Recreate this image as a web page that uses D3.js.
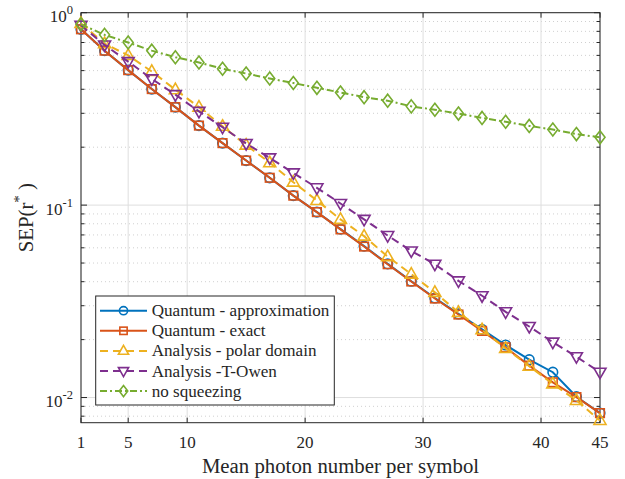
<!DOCTYPE html>
<html>
<head>
<meta charset="utf-8">
<script src="https://cdn.jsdelivr.net/npm/d3@7"></script>
<style>
  body { margin: 0; background: #fff; }
  text { font-family: "Liberation Serif", "Times New Roman", serif; fill: #262626; }
</style>
</head>
<body>
<script>
// photon numbers (x) for every series
var photons = [1, 3, 5, 7, 9, 11, 13, 15, 17, 19, 21, 23, 25, 27, 29, 31, 33, 35, 37, 39, 41, 43, 45];

var quantumApprox = [0.82, 0.635, 0.503, 0.401, 0.323, 0.259, 0.210, 0.1705, 0.1387, 0.112, 0.092, 0.0750,
                     0.0612, 0.0495, 0.0402, 0.0329, 0.0272, 0.0226, 0.01875, 0.01573, 0.01354, 0.0101, 0.0083];
var quantumExact  = [0.82, 0.635, 0.503, 0.401, 0.323, 0.259, 0.210, 0.1705, 0.1387, 0.112, 0.092, 0.0748,
                     0.0609, 0.0493, 0.0401, 0.0327, 0.0270, 0.0222, 0.01823, 0.01465, 0.0120, 0.01005, 0.0083];
var polarDomain   = [0.88, 0.69, 0.60, 0.495, 0.398, 0.323, 0.257, 0.205, 0.166, 0.1316, 0.1057, 0.0843,
                     0.069, 0.054, 0.0438, 0.0352, 0.0277, 0.0225, 0.0180, 0.01455, 0.01178, 0.00966, 0.0076];
var tOwen         = [0.86, 0.68, 0.557, 0.453, 0.375, 0.307, 0.254, 0.209, 0.176, 0.147, 0.123, 0.102,
                     0.0843, 0.0695, 0.0578, 0.0493, 0.0404, 0.0338, 0.0279, 0.0234, 0.0194, 0.0163, 0.01354];
var noSqueezing   = [0.87, 0.767, 0.70, 0.635, 0.587, 0.551, 0.511, 0.483, 0.455, 0.431, 0.407, 0.385,
                     0.364, 0.349, 0.326, 0.313, 0.299, 0.284, 0.271, 0.258, 0.247, 0.234, 0.225];

var xTicks = [1, 5, 10, 20, 30, 40, 45];
var yDecades = [1, 0.1, 0.01];
var legendNames = ["Quantum - approximation", "Quantum - exact", "Analysis - polar domain", "Analysis -T-Owen", "no squeezing"];

var W = 625, H = 479;
var L = 81, R = 600, T = 12.7, B = 422.7;

var svg = d3.select("body").append("svg")
    .attr("width", W)
    .attr("height", H);

var x = d3.scaleLinear().domain([1, 45]).range([L, R]);
var y = d3.scaleLog().domain([0.0074, 1]).range([B, T]);

// minor y values
var yMinor = [];
[0.001, 0.01, 0.1].forEach(function (d) {
    for (var k = 2; k <= 9; k++) {
        var v = d * k;
        if (v >= 0.0074 && v < 1) yMinor.push(v);
    }
});

var grid = svg.append("g");
grid.selectAll("line.minor").data(yMinor).enter().append("line")
    .attr("x1", L).attr("x2", R)
    .attr("y1", function (d) { return y(d); })
    .attr("y2", function (d) { return y(d); })
    .attr("stroke", "#c4c4c4")
    .attr("stroke-width", 0.8)
    .attr("stroke-dasharray", "1,3");
grid.selectAll("line.ymaj").data(yDecades).enter().append("line")
    .attr("x1", L).attr("x2", R)
    .attr("y1", function (d) { return y(d); })
    .attr("y2", function (d) { return y(d); })
    .attr("stroke", "#dedede")
    .attr("stroke-width", 1);
grid.selectAll("line.xmaj").data(xTicks).enter().append("line")
    .attr("y1", T).attr("y2", B)
    .attr("x1", function (d) { return x(d); })
    .attr("x2", function (d) { return x(d); })
    .attr("stroke", "#dedede")
    .attr("stroke-width", 1);

// axes (ticks inward, box on)
var axisColor = "#262626";
var axes = svg.append("g");
axes.append("rect")
    .attr("x", L).attr("y", T)
    .attr("width", R - L).attr("height", B - T)
    .attr("fill", "none")
    .attr("stroke", axisColor)
    .attr("stroke-width", 1);

xTicks.forEach(function (d) {
    axes.append("line").attr("x1", x(d)).attr("x2", x(d)).attr("y1", B).attr("y2", B - 5).attr("stroke", axisColor);
    axes.append("line").attr("x1", x(d)).attr("x2", x(d)).attr("y1", T).attr("y2", T + 5).attr("stroke", axisColor);
    axes.append("text")
        .attr("x", x(d)).attr("y", 447.5)
        .attr("text-anchor", "middle")
        .style("font-size", "17px")
        .text(d);
});

yDecades.forEach(function (d) {
    axes.append("line").attr("x1", L).attr("x2", L + 6).attr("y1", y(d)).attr("y2", y(d)).attr("stroke", axisColor);
    axes.append("line").attr("x1", R).attr("x2", R - 6).attr("y1", y(d)).attr("y2", y(d)).attr("stroke", axisColor);
    var e = Math.round(Math.log10(d));
    var t = axes.append("text")
        .attr("x", 73).attr("y", y(d) + 9.5)
        .attr("text-anchor", "end")
        .style("font-size", "17px");
    t.append("tspan").text("10");
    t.append("tspan").attr("dy", -8).style("font-size", "12.5px").text(e === 0 ? "0" : "-" + Math.abs(e));
});
yMinor.forEach(function (d) {
    axes.append("line").attr("x1", L).attr("x2", L + 3.5).attr("y1", y(d)).attr("y2", y(d)).attr("stroke", axisColor);
    axes.append("line").attr("x1", R).attr("x2", R - 3.5).attr("y1", y(d)).attr("y2", y(d)).attr("stroke", axisColor);
});

// axis titles
axes.append("text")
    .attr("x", (L + R) / 2).attr("y", 473)
    .attr("text-anchor", "middle")
    .style("font-size", "20.8px")
    .text("Mean photon number per symbol");

var yl = axes.append("text")
    .attr("transform", "translate(33," + ((T + B) / 2) + ") rotate(-90)")
    .attr("text-anchor", "middle")
    .style("font-size", "20.8px");
yl.append("tspan").text("SEP(r");
yl.append("tspan").attr("dy", -9).style("font-size", "15px").text("*");
yl.append("tspan").attr("dy", 9).text(" )");

// series
var series = [
    { name: legendNames[0], values: quantumApprox, color: "#0072BD", dash: null, marker: "circle" },
    { name: legendNames[1], values: quantumExact, color: "#D95319", dash: null, marker: "square" },
    { name: legendNames[2], values: polarDomain, color: "#EDB120", dash: "8,5", marker: "up" },
    { name: legendNames[3], values: tOwen, color: "#7E2F8E", dash: "8,5", marker: "down" },
    { name: legendNames[4], values: noSqueezing, color: "#77AC30", dash: "7,3,2,3", marker: "diamond" }
];

function drawMarker(g, type, cx, cy, color, s) {
    var m;
    if (type === "circle") {
        m = g.append("circle").attr("cx", cx).attr("cy", cy).attr("r", 4.8 * s);
    } else if (type === "square") {
        m = g.append("rect").attr("x", cx - 4.3 * s).attr("y", cy - 4.3 * s).attr("width", 8.6 * s).attr("height", 8.6 * s);
    } else if (type === "up") {
        m = g.append("path").attr("d", "M" + cx + "," + (cy - 6.5 * s) + "L" + (cx + 6 * s) + "," + (cy + 4 * s) + "L" + (cx - 6 * s) + "," + (cy + 4 * s) + "Z");
    } else if (type === "down") {
        m = g.append("path").attr("d", "M" + cx + "," + (cy + 6.5 * s) + "L" + (cx + 6 * s) + "," + (cy - 4 * s) + "L" + (cx - 6 * s) + "," + (cy - 4 * s) + "Z");
    } else {
        m = g.append("path").attr("d", "M" + cx + "," + (cy - 6.5 * s) + "L" + (cx + 5 * s) + "," + cy + "L" + cx + "," + (cy + 6.5 * s) + "L" + (cx - 5 * s) + "," + cy + "Z");
    }
    m.attr("fill", "none").attr("stroke", color).attr("stroke-width", 1.6);
}

var line = d3.line()
    .x(function (d, i) { return x(photons[i]); })
    .y(function (d) { return y(d); });

var plot = svg.append("g");
series.forEach(function (s) {
    var g = plot.append("g");
    g.append("path")
        .attr("d", line(s.values))
        .attr("fill", "none")
        .attr("stroke", s.color)
        .attr("stroke-width", 2)
        .attr("stroke-dasharray", s.dash);
    s.values.forEach(function (v, i) {
        drawMarker(g, s.marker, x(photons[i]), y(v), s.color, 1);
    });
});

// legend
var lg = svg.append("g");
lg.append("rect")
    .attr("x", 95.7).attr("y", 296)
    .attr("width", 238.6).attr("height", 109)
    .attr("fill", "#fff")
    .attr("stroke", axisColor)
    .attr("stroke-width", 1);
series.forEach(function (s, i) {
    var ly = 310.7 + i * 20.1;
    lg.append("line")
        .attr("x1", 100).attr("x2", 147)
        .attr("y1", ly).attr("y2", ly)
        .attr("stroke", s.color)
        .attr("stroke-width", 2)
        .attr("stroke-dasharray", s.dash);
    drawMarker(lg, s.marker, 123.5, ly, s.color, 0.85);
    lg.append("text")
        .attr("x", 151.7).attr("y", ly + 5.5)
        .style("font-size", "17.1px")
        .text(s.name);
});
</script>
</body>
</html>
